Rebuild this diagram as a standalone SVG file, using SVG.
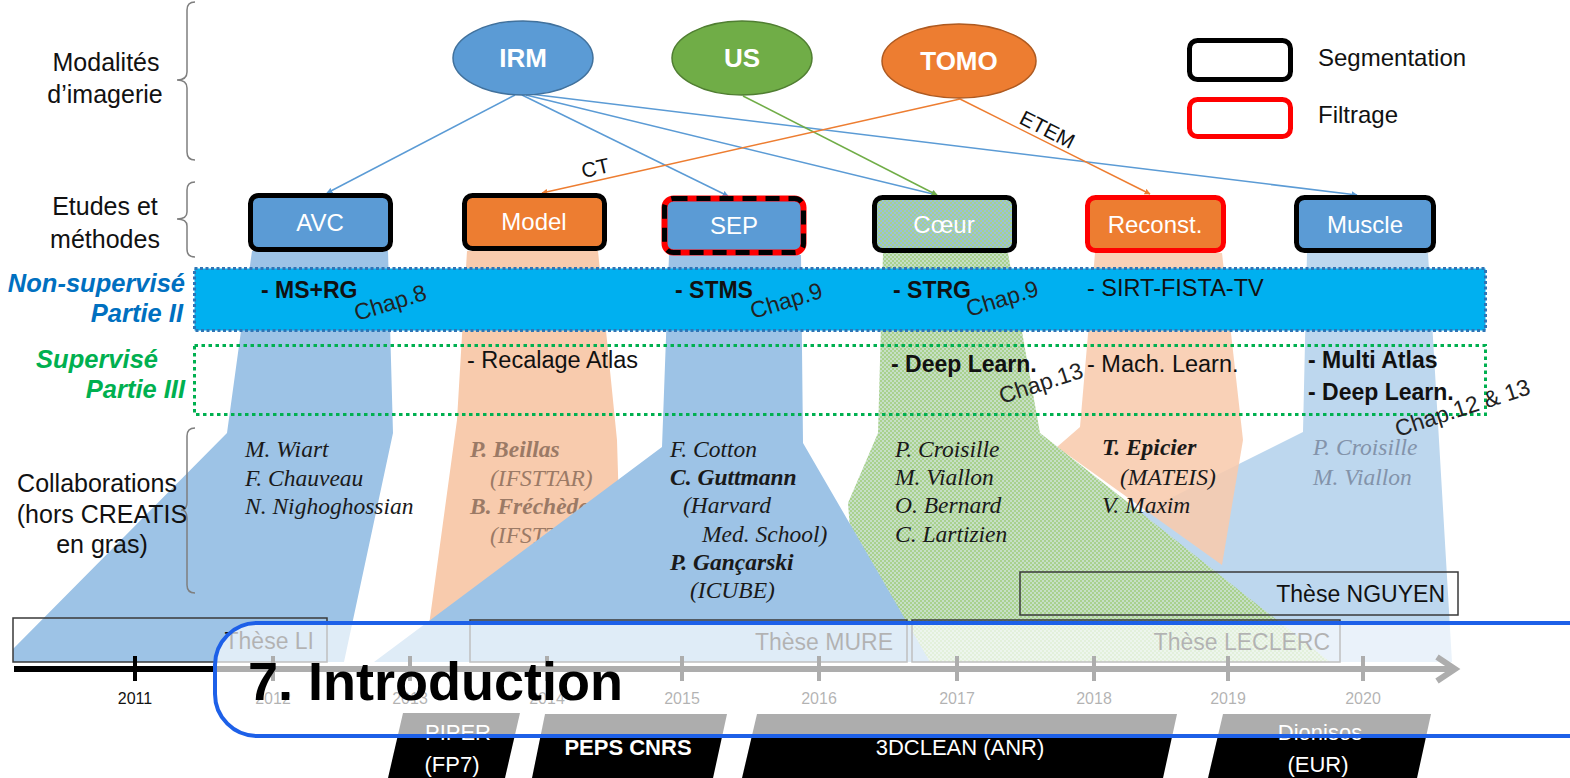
<svg xmlns="http://www.w3.org/2000/svg" width="1570" height="778" viewBox="0 0 1570 778">
<defs>
<style>
.s{font-family:"Liberation Sans",Arial,sans-serif}
.lbl{font-family:"Liberation Sans",Arial,sans-serif;font-size:25px;fill:#111;text-anchor:middle}
.nm{font-family:"Liberation Serif","Times New Roman",serif;font-style:italic;font-size:23.5px;fill:#1a1a1a}
.b{font-weight:bold}
.box{stroke:#000;stroke-width:5}
.bt{font-family:"Liberation Sans",Arial,sans-serif;font-size:24px;fill:#fff;text-anchor:middle}
.et{font-family:"Liberation Sans",Arial,sans-serif;font-size:26px;font-weight:bold;fill:#fff;text-anchor:middle}
.mt{font-family:"Liberation Sans",Arial,sans-serif;font-size:23.5px;fill:#111}
.mb{font-family:"Liberation Sans",Arial,sans-serif;font-size:23px;font-weight:bold;fill:#111}
.chap{font-family:"Liberation Sans",Arial,sans-serif;font-size:23px;fill:#222}
.th{font-family:"Liberation Sans",Arial,sans-serif;font-size:23px;fill:#111;text-anchor:end}
.thb{fill:none;stroke:#3a3a3a;stroke-width:1.5}
.yr{font-family:"Liberation Sans",Arial,sans-serif;font-size:16px;fill:#111;text-anchor:middle}
.fd{font-family:"Liberation Sans",Arial,sans-serif;font-size:22px;fill:#fff;text-anchor:middle}
.brace{fill:none;stroke:#7f7f7f;stroke-width:1.5}
.cb{stroke-width:1.5;fill:none}
</style>
<pattern id="chkBox" width="4" height="4" patternUnits="userSpaceOnUse">
<rect width="4" height="4" fill="#98c1dc"/><rect width="2" height="2" fill="#a9d18e"/><rect x="2" y="2" width="2" height="2" fill="#a9d18e"/>
</pattern>
<pattern id="chkSw" width="4" height="4" patternUnits="userSpaceOnUse">
<rect width="4" height="4" fill="#c6dfc6"/><rect width="2" height="2" fill="#a9d18e"/><rect x="2" y="2" width="2" height="2" fill="#a9d18e"/>
</pattern>
<marker id="aB" viewBox="0 0 10 10" refX="9" refY="5" markerWidth="6" markerHeight="6" orient="auto" markerUnits="userSpaceOnUse"><path d="M0,0 L10,5 L0,10 z" fill="#5b9bd5"/></marker>
<marker id="aG" viewBox="0 0 10 10" refX="9" refY="5" markerWidth="6" markerHeight="6" orient="auto" markerUnits="userSpaceOnUse"><path d="M0,0 L10,5 L0,10 z" fill="#70ad47"/></marker>
<marker id="aO" viewBox="0 0 10 10" refX="9" refY="5" markerWidth="6" markerHeight="6" orient="auto" markerUnits="userSpaceOnUse"><path d="M0,0 L10,5 L0,10 z" fill="#ed7d31"/></marker>
</defs>
<rect width="1570" height="778" fill="#fff"/>

<!-- swaths -->
<g id="swaths">
<polygon id="sw-model" points="467,251 598,251 617,440 620,540 540,640 427,640 457,420" fill="#f8cbad"/>
<polygon id="sw-muscle" points="1307,253 1428,253 1452,662 1000,662 1000,583 1303,432" fill="#bdd7ee"/>
<polygon id="sw-reconst" points="1095,253 1222,253 1243,440 1222,565 1057,447 1080,427" fill="#f8cbad" fill-opacity="0.88"/>
<polygon id="sw-avc" points="252,251 388,251 393,433 344,662 13,662 13,649 227,433" fill="#9dc3e6"/>
</g>
<g id="collab-model" class="nm" style="fill:#9b7a66">
<text x="470" y="457" class="b">P. Beillas</text>
<text x="490" y="486">(IFSTTAR)</text>
<text x="470" y="514" class="b">B. Fréchède</text>
<text x="490" y="543">(IFSTTAR)</text>
</g>
<g id="swaths2">
<polygon id="sw-coeur" points="883,253 1008,253 1040,433 1330,662 860,662 848,503 878,433" fill="url(#chkSw)"/>
<polygon id="sw-sep" points="669,255 801,255 803,443 930,662 374,662 662,447" fill="#9dc3e6"/>
</g>

<!-- collaborations -->
<g id="collab-avc" class="nm">
<text x="245" y="457">M. Wiart</text>
<text x="245" y="486">F. Chauveau</text>
<text x="245" y="514">N. Nighoghossian</text>
</g>
<g id="collab-sep" class="nm">
<text x="670" y="457">F. Cotton</text>
<text x="670" y="485" class="b">C. Guttmann</text>
<text x="683" y="513">(Harvard</text>
<text x="702" y="542">Med. School)</text>
<text x="670" y="570" class="b">P. Gançarski</text>
<text x="690" y="598">(ICUBE)</text>
</g>
<g id="collab-coeur" class="nm">
<text x="895" y="457">P. Croisille</text>
<text x="895" y="485">M. Viallon</text>
<text x="895" y="513">O. Bernard</text>
<text x="895" y="542">C. Lartizien</text>
</g>
<g id="collab-reconst" class="nm">
<text x="1102" y="455" class="b">T. Epicier</text>
<text x="1120" y="485">(MATEIS)</text>
<text x="1102" y="513">V. Maxim</text>
</g>
<g id="collab-muscle" class="nm" style="fill:#8393aa">
<text x="1313" y="455">P. Croisille</text>
<text x="1313" y="485">M. Viallon</text>
</g>

<!-- row labels -->
<g id="row-labels">
<path class="brace" d="M195,2 Q187,2 187,10 L187,72 Q187,80 177,80 Q187,80 187,88 L187,152 Q187,160 195,160"/>
<text class="lbl" x="106" y="71">Modalités</text>
<text class="lbl" x="105" y="103">d’imagerie</text>
<path class="brace" d="M195,182 Q187,182 187,190 L187,212 Q187,219 177,219 Q187,219 187,226 L187,249 Q187,257 195,257"/>
<text class="lbl" x="105" y="215">Etudes et</text>
<text class="lbl" x="105" y="248">méthodes</text>
<path class="brace" d="M195,428 Q187,428 187,436 L187,502 Q187,510 181,510 Q187,510 187,518 L187,585 Q187,593 195,593"/>
<text class="lbl" x="97" y="492">Collaborations</text>
<text class="lbl" x="102" y="523">(hors CREATIS</text>
<text class="lbl" x="102" y="553">en gras)</text>
<text class="s b" x="185" y="292" font-size="25.5" font-style="italic" fill="#0070c0" text-anchor="end">Non-supervisé</text>
<text class="s b" x="183" y="322" font-size="25.5" font-style="italic" fill="#0070c0" text-anchor="end">Partie II</text>
<text class="s b" x="158" y="368" font-size="25.5" font-style="italic" fill="#00b050" text-anchor="end">Supervisé</text>
<text class="s b" x="185" y="398" font-size="25.5" font-style="italic" fill="#00b050" text-anchor="end">Partie III</text>
</g>

<!-- method bands -->
<g id="band-unsup">
<rect x="194.5" y="268.5" width="1291" height="62" fill="#00b0f0" stroke="#2e75b6" stroke-width="3" stroke-dasharray="3 2.5"/>
<text class="mb" x="261" y="298">- MS+RG</text>
<text class="mb" x="675" y="298">- STMS</text>
<text class="mb" x="893" y="298">- STRG</text>
<text class="mt" x="1087" y="296" font-size="22">- SIRT-FISTA-TV</text>
<text class="chap" x="357" y="321" transform="rotate(-17 357 321)">Chap.8</text>
<text class="chap" x="753" y="319" transform="rotate(-17 753 319)">Chap.9</text>
<text class="chap" x="969" y="317" transform="rotate(-17 969 317)">Chap.9</text>
</g>
<g id="band-sup">
<rect x="194.5" y="345.5" width="1291" height="69" fill="none" stroke="#00b050" stroke-width="3" stroke-dasharray="3.5 3.5"/>
<text class="mt" x="467" y="368">- Recalage Atlas</text>
<text class="mb" x="891" y="372" font-size="24">- Deep Learn.</text>
<text class="mt" x="1087" y="372">- Mach. Learn.</text>
<text class="mb" x="1308" y="368" font-size="24">- Multi Atlas</text>
<text class="mb" x="1308" y="400" font-size="24">- Deep Learn.</text>
<text class="chap" x="1002" y="404" transform="rotate(-18 1002 404)">Chap.13</text>
<text class="chap" x="1398" y="437" transform="rotate(-18 1398 437)">Chap.12 &amp; 13</text>
</g>

<!-- connectors -->
<g id="connectors">
<line class="cb" x1="515" y1="95" x2="327" y2="193" stroke="#5b9bd5" marker-end="url(#aB)"/>
<line class="cb" x1="522" y1="95" x2="728" y2="196" stroke="#5b9bd5" marker-end="url(#aB)"/>
<line class="cb" x1="526" y1="95" x2="937" y2="195" stroke="#5b9bd5" marker-end="url(#aB)"/>
<line class="cb" x1="530" y1="94" x2="1357" y2="195" stroke="#5b9bd5" marker-end="url(#aB)"/>
<line class="cb" x1="743" y1="96" x2="937" y2="195" stroke="#70ad47" marker-end="url(#aG)"/>
<line class="cb" x1="960" y1="99" x2="542" y2="193" stroke="#ed7d31" marker-end="url(#aO)"/>
<line class="cb" x1="960" y1="99" x2="1150" y2="194" stroke="#ed7d31" marker-end="url(#aO)"/>
<text class="s" x="597" y="175" font-size="21" fill="#111" text-anchor="middle" transform="rotate(-13 597 175)">CT</text>
<text class="s" x="1044" y="136" font-size="21" fill="#111" text-anchor="middle" transform="rotate(27 1044 136)">ETEM</text>
</g>

<!-- modalities -->
<g id="node-irm"><ellipse cx="523" cy="58" rx="70" ry="37" fill="#5b9bd5" stroke="#41719c" stroke-width="1.5"/><text class="et" x="523" y="67">IRM</text></g>
<g id="node-us"><ellipse cx="742" cy="58" rx="70" ry="37" fill="#70ad47" stroke="#507e32" stroke-width="1.5"/><text class="et" x="742" y="67">US</text></g>
<g id="node-tomo"><ellipse cx="959" cy="61" rx="77" ry="37" fill="#ed7d31" stroke="#ae5a21" stroke-width="1.5"/><text class="et" x="959" y="70">TOMO</text></g>

<!-- studies -->
<g id="node-avc"><rect class="box" x="250.5" y="195.5" width="140" height="54" rx="8" fill="#5b9bd5"/><text class="bt" x="320" y="231">AVC</text></g>
<g id="node-model"><rect class="box" x="464.5" y="195.5" width="140" height="53" rx="8" fill="#ed7d31"/><text class="bt" x="534" y="230">Model</text></g>
<g id="node-sep"><rect x="664.5" y="198.5" width="139" height="54" rx="9" fill="#5b9bd5" stroke="#ff0000" stroke-width="6"/><rect x="664.5" y="198.5" width="139" height="54" rx="9" fill="none" stroke="#000" stroke-width="5" stroke-dasharray="14 9"/><text class="bt" x="734" y="234">SEP</text></g>
<g id="node-coeur"><rect class="box" x="874.5" y="197.5" width="140" height="53" rx="8" fill="url(#chkBox)"/><text class="bt" x="944" y="233">Cœur</text></g>
<g id="node-reconst"><rect x="1087.5" y="197.5" width="136" height="53" rx="8" fill="#ed7d31" stroke="#ff0000" stroke-width="5"/><text class="bt" x="1155" y="233">Reconst.</text></g>
<g id="node-muscle"><rect class="box" x="1296.5" y="197.5" width="137" height="53" rx="8" fill="#5b9bd5"/><text class="bt" x="1365" y="233">Muscle</text></g>

<!-- legend -->
<g id="legend">
<rect x="1189.5" y="40.5" width="101" height="39" rx="8" fill="#fff" stroke="#000" stroke-width="5"/>
<text class="s" x="1318" y="66" font-size="24" fill="#111">Segmentation</text>
<rect x="1189.5" y="99.5" width="101" height="37" rx="8" fill="#fff" stroke="#ff0000" stroke-width="5"/>
<text class="s" x="1318" y="123" font-size="24" fill="#111">Filtrage</text>
</g>

<!-- theses -->
<g id="theses">
<rect class="thb" x="1020" y="572" width="438" height="43"/>
<text class="th" x="1445" y="602">Thèse NGUYEN</text>
<rect class="thb" x="13" y="618" width="314" height="44"/>
<text class="th" x="314" y="649">Thèse LI</text>
<rect class="thb" x="470" y="620" width="437" height="42"/>
<text class="th" x="893" y="650">Thèse MURE</text>
<rect class="thb" x="912" y="620" width="428" height="42"/>
<text class="th" x="1330" y="650">Thèse LECLERC</text>
</g>

<!-- timeline -->
<g id="timeline" stroke="#000">
<line x1="14" y1="669" x2="1452" y2="669" stroke-width="6"/>
<polyline points="1437,657 1455,669 1437,681" fill="none" stroke-width="6"/>
<g stroke-width="4">
<line x1="135" y1="656" x2="135" y2="681"/><line x1="273" y1="656" x2="273" y2="681"/><line x1="410" y1="656" x2="410" y2="681"/><line x1="547" y1="656" x2="547" y2="681"/><line x1="682" y1="656" x2="682" y2="681"/><line x1="819" y1="656" x2="819" y2="681"/><line x1="957" y1="656" x2="957" y2="681"/><line x1="1094" y1="656" x2="1094" y2="681"/><line x1="1228" y1="656" x2="1228" y2="681"/><line x1="1363" y1="656" x2="1363" y2="681"/>
</g>
</g>
<g id="years">
<text class="yr" x="135" y="704">2011</text><text class="yr" x="273" y="704">2012</text><text class="yr" x="410" y="704">2013</text><text class="yr" x="547" y="704">2014</text><text class="yr" x="682" y="704">2015</text><text class="yr" x="819" y="704">2016</text><text class="yr" x="957" y="704">2017</text><text class="yr" x="1094" y="704">2018</text><text class="yr" x="1228" y="704">2019</text><text class="yr" x="1363" y="704">2020</text>
</g>

<!-- funding -->
<g id="fund-piper"><polygon points="403,713 520,713 505,778 388,778" fill="#000"/><text class="fd" x="458" y="740">PIPER</text><text class="fd" x="452" y="772">(FP7)</text></g>
<g id="fund-peps"><polygon points="545,714 727,714 713,778 532,778" fill="#000"/><text class="fd b" x="628" y="755">PEPS CNRS</text></g>
<g id="fund-3dclean"><polygon points="757,714 1177,714 1163,778 742,778" fill="#000"/><text class="fd" x="960" y="755">3DCLEAN (ANR)</text></g>
<g id="fund-dionisos"><polygon points="1223,714 1431,714 1417,778 1208,778" fill="#000"/><text class="fd" x="1320" y="740">Dionisos</text><text class="fd" x="1318" y="772">(EUR)</text></g>

<!-- overlay title -->
<g id="title-overlay">
<rect x="215" y="623" width="1420" height="113" rx="42" fill="#fff" fill-opacity="0.68" stroke="#1d60e8" stroke-width="4"/>
<text class="s b" x="248" y="700" font-size="54" fill="#000">7. Introduction</text>
</g>
</svg>
